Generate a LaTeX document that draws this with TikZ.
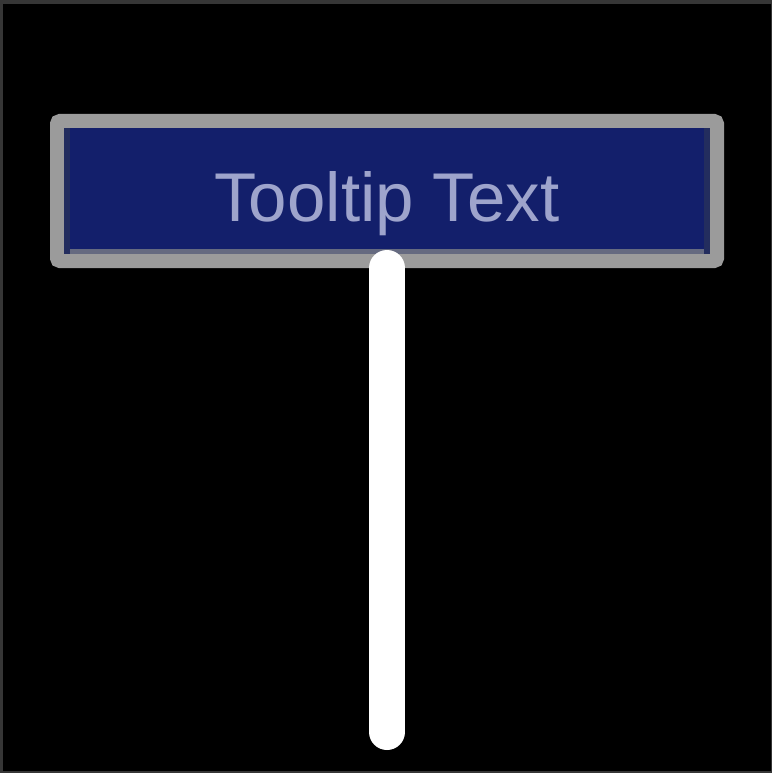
\documentclass[tikz,border=0pt]{standalone}
\usepackage{fontspec}
\setmainfont{Liberation Sans}
\usetikzlibrary{positioning}
\definecolor{tipblue}{HTML}{131F6B}
\definecolor{tipgray}{HTML}{9B9B9B}
\definecolor{tiptext}{HTML}{9EA4CC}
\definecolor{tipdark}{HTML}{232D5E}
\definecolor{tiplow}{HTML}{656A80}
\definecolor{frame}{HTML}{363636}

\begin{document}
\begin{tikzpicture}[x=1pt,y=-1pt]
		% styles
		\tikzset{
			tipbox/.style={draw=tipgray, fill=tipblue, line width=14pt, rounded corners=3pt,
				minimum width=660pt, minimum height=140pt, inner sep=0pt, outer sep=7pt,
				text height=61pt, text depth=0pt, text=tiptext,
				font=\fontsize{69}{80}\selectfont},
			stem/.style={draw=white, line width=36pt, line cap=round}
		}

		% background and frame
		\fill[frame] (0,0) rectangle (772,773);
		\fill[black] (3,4) rectangle (771,771);
		\useasboundingbox (0,0) rectangle (772,773);

		% nodes
		\node[tipbox] (tip) at (387,191) {Tooltip Text};
		\coordinate (stemend) at (387,732);

		% inner edges of the box
		\fill[tipdark] ([xshift=14pt,yshift=-14pt]tip.north west) rectangle ([xshift=20pt,yshift=14pt]tip.south west);
		\fill[tipdark] ([xshift=-20pt,yshift=-14pt]tip.north east) rectangle ([xshift=-14pt,yshift=14pt]tip.south east);
		\fill[tiplow] ([xshift=20pt,yshift=19pt]tip.south west) rectangle ([xshift=-20pt,yshift=14pt]tip.south east);

		% connections
		\draw[stem] (tip.south) -- (stemend);
\end{tikzpicture}
\end{document}
